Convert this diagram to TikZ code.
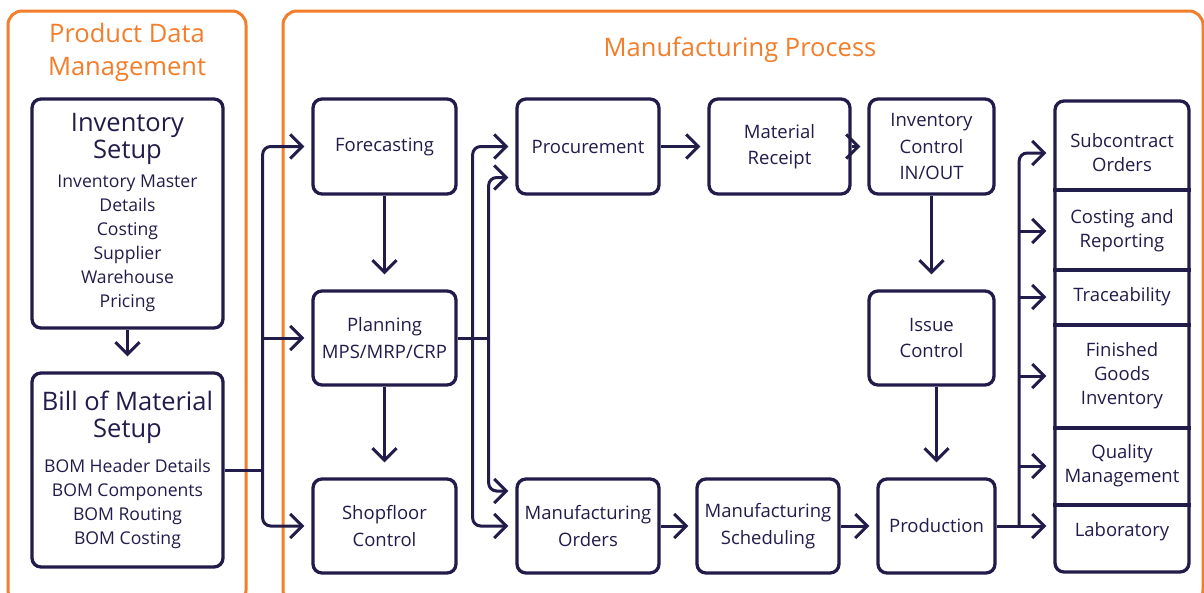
\documentclass[tikz,border=0pt]{standalone}
\usepackage{fontspec}
\setmainfont{Open Sans}
\usetikzlibrary{arrows.meta}
\definecolor{navy}{RGB}{34,28,74}
\definecolor{orng}{RGB}{242,125,42}
\newcommand\flowfont{\fontsize{18.5}{26.5}\selectfont}
\newcommand\itemfont{\fontsize{17.6}{24}\selectfont}
\newcommand\sectfont{\fontsize{18.5}{24}\selectfont}
\newcommand\titlefont{\fontsize{25.5}{27.5}\selectfont}
\newcommand\headfont{\fontsize{25.5}{33}\selectfont}
\tikzset{
 box/.style={draw=navy, line width=3.3pt, rounded corners=9pt, inner sep=0pt, align=center, text=navy, font=\flowfont},
 conn/.style={draw=navy, line width=3pt},
 arr/.style={conn, -{Straight Barb[length=12pt,width=24pt]}, shorten >=7pt},
 varr/.style={arr, shorten >=15pt},
 rc/.style={rounded corners=8pt},
 txt/.style={text=navy, align=center, inner sep=0pt},
 head/.style={text=orng, align=center, inner sep=0pt, font=\headfont},
 frame/.style={draw=orng, line width=3pt, rounded corners=14pt},
 sect/.style={txt, font=\sectfont, text width=134pt},
}
\begin{document}
\begin{tikzpicture}[x=1pt,y=-1pt]
\useasboundingbox (0,0) rectangle (1204,592);
\clip (0,0) rectangle (1204,592);
% orange frames
\draw[frame] (8,11) rectangle (246,604);
\draw[frame] (283,11) rectangle (1203,604);
\node[head] (pdm) at (127,52) {Product Data\\Management};
\node[head] (mp) at (740,50) {Manufacturing Process};
% left boxes
\node[box, minimum width=191, minimum height=229] (inv) at (127.5,213.5) {};
\node[txt, font=\titlefont] (invT) at (127.5,139) {Inventory\\Setup};
\node[txt, font=\itemfont] (invI) at (127.5,243.5) {Inventory Master\\Details\\Costing\\Supplier\\Warehouse\\Pricing};
\node[box, minimum width=191, minimum height=194] (bom) at (127.5,470) {};
\node[txt, font=\titlefont] (bomT) at (127.5,417.5) {Bill of Material\\Setup};
\node[txt, font=\itemfont] (bomI) at (127.5,503.5) {BOM Header Details\\BOM Components\\BOM Routing\\BOM Costing};
% flow boxes
\node[box, minimum width=143, minimum height=95] (fore) at (384.5,146.5) {Forecasting};
\node[box, minimum width=143, minimum height=94] (plan) at (384.5,338) {Planning\\MPS/MRP/CRP};
\node[box, minimum width=143, minimum height=94] (shop) at (384.5,526) {Shopfloor\\Control};
\node[box, minimum width=142, minimum height=95] (proc) at (588,146.5) {Procurement};
\node[box, minimum width=141, minimum height=95] (mrec) at (779.5,146.5) {Material\\Receipt};
\node[box, minimum width=125, minimum height=95] (invc) at (931.5,146.5) {Inventory\\Control\\IN/OUT};
\node[box, minimum width=125, minimum height=94] (issue) at (931.5,338) {Issue\\Control};
\node[box, minimum width=142, minimum height=94] (mo) at (588,526) {Manufacturing\\Orders};
\node[box, minimum width=142, minimum height=94] (ms) at (768,526) {Manufacturing\\Scheduling};
\node[box, minimum width=117, minimum height=94] (prod) at (936.5,526) {Production};
% right column
\node[box, minimum width=134, minimum height=471] (col) at (1122,336.5) {};
\foreach \yy in {190,270,325,428,505} \draw[conn, line width=3.3pt] (col.west |- 0,\yy) -- (col.east |- 0,\yy);
\node[sect] (sub) at (1122,153) {Subcontract\\Orders};
\node[sect] (cost) at (1122,231) {Costing and\\Reporting};
\node[sect] (trace) at (1122,297) {Traceability};
\node[sect] (fin) at (1122,376) {Finished\\Goods\\Inventory};
\node[sect] (qual) at (1122,466) {Quality\\Management};
\node[sect] (lab) at (1122,532) {Laboratory};
% connectors
\draw[varr] (inv.south) -- (bom.north);
\draw[conn] (bom.east) -- ++(38,0) coordinate (b1);
\draw[arr, rc] (b1) |- (fore.west);
\draw[arr] (b1 |- plan.west) -- (plan.west);
\draw[arr, rc] (b1) |- (shop.west);
\draw[varr] (fore.south) -- (plan.north);
\draw[varr] (plan.south) -- (shop.north);
\draw[conn] (plan.east) -- ++(31,0) coordinate (p2);
\path (plan.east) ++(15,0) coordinate (p1);
\draw[arr, rc] (p1) |- (proc.west);
\draw[arr, rc] (p1) |- (mo.west);
\draw[arr, rc] (p2) |- ([yshift=-31pt]proc.west);
\draw[arr, rc] (p2) |- ([yshift=35pt]mo.west);
\draw[arr] (proc.east) -- (mrec.west);
\draw[arr] (mrec.east) -- (invc.west);
\draw[varr] (invc.south) -- (issue.north);
\draw[varr] (issue.south -| prod.north) -- (prod.north);
\draw[arr] (mo.east) -- (ms.west);
\draw[arr] (ms.east) -- (prod.west);
\draw[arr] (prod.east) -- (prod.east -| col.west);
\path (prod.east) ++(22.5,0) coordinate (q);
\draw[arr, rc] (q) |- (sub.west -| col.west);
\draw[arr] (q |- cost.west) -- (cost.west -| col.west);
\draw[arr] (q |- trace.west) -- (trace.west -| col.west);
\draw[arr] (q |- fin.west) -- (fin.west -| col.west);
\draw[arr] (q |- qual.west) -- (qual.west -| col.west);
\end{tikzpicture}
\end{document}
